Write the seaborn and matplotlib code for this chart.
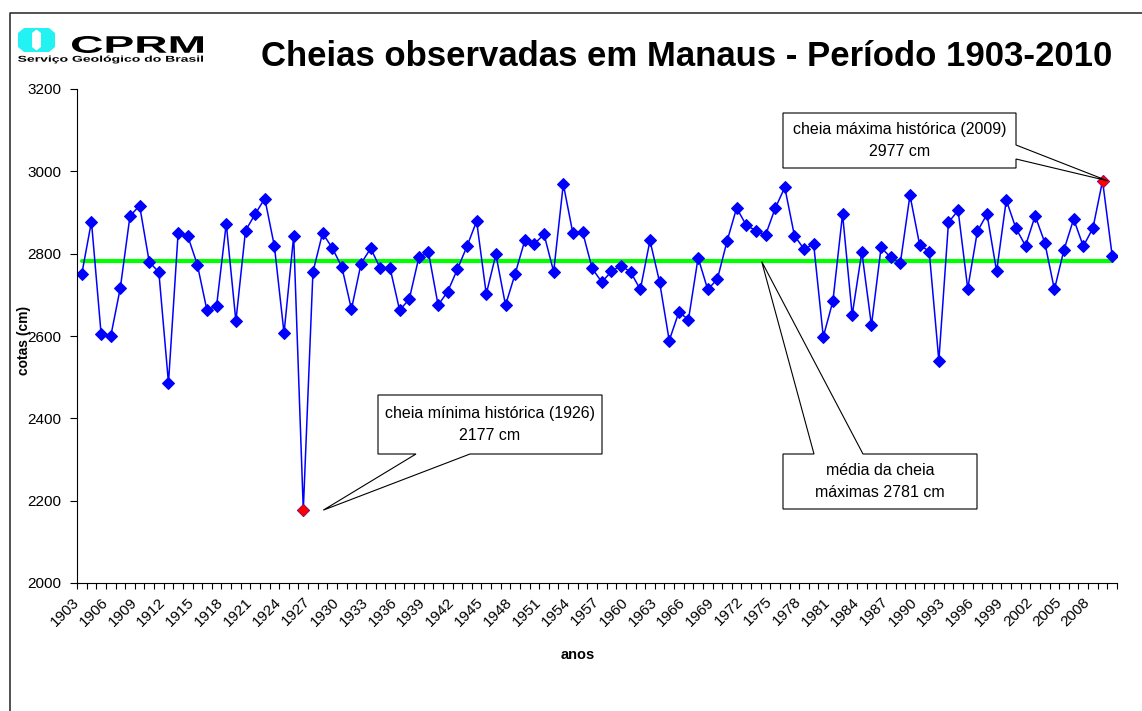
import matplotlib
matplotlib.use("Agg")
import matplotlib.pyplot as plt
import seaborn as sns
from matplotlib.patches import Polygon, PathPatch
from matplotlib.textpath import TextPath
from matplotlib.font_manager import FontProperties
from matplotlib.transforms import IdentityTransform, Affine2D, ScaledTranslation

# cotas maximas anuais do rio Negro em Manaus (cm)
anos = list(range(1903, 2011))
cotas = [
    2751, 2878, 2606, 2599, 2717, 2891, 2917, 2780, 2755, 2486,  # 1903-1912
    2850, 2843, 2773, 2662, 2674, 2873, 2636, 2856, 2896, 2934,  # 1913-1922
    2818, 2607, 2843, 2177, 2755, 2850, 2814, 2768, 2665, 2776,  # 1923-1932
    2813, 2764, 2766, 2663, 2689, 2791, 2803, 2675, 2708, 2762,  # 1933-1942
    2818, 2879, 2702, 2798, 2675, 2751, 2832, 2824, 2847, 2756,  # 1943-1952
    2969, 2849, 2853, 2764, 2731, 2757, 2771, 2755, 2713, 2832,  # 1953-1962
    2731, 2589, 2658, 2640, 2790, 2713, 2738, 2830, 2911, 2869,  # 1963-1972
    2856, 2845, 2910, 2961, 2844, 2811, 2823, 2598, 2685, 2896,  # 1973-1982
    2651, 2804, 2626, 2815, 2791, 2777, 2942, 2822, 2805, 2540,  # 1983-1992
    2876, 2905, 2715, 2854, 2896, 2757, 2930, 2862, 2819, 2892,  # 1993-2002
    2827, 2713, 2810, 2884, 2818, 2862, 2977, 2795,              # 2003-2010
]
media = 2781
ano_min, cota_min = 1926, 2177
ano_max, cota_max = 2009, 2977
yticks = [2000, 2200, 2400, 2600, 2800, 3000, 3200]

W, H = 1142, 711
sns.set_style("white")
plt.rcParams["font.family"] = ["Liberation Sans", "DejaVu Sans"]
plt.rcParams["text.color"] = "black"
plt.rcParams["axes.labelcolor"] = "black"
plt.rcParams["xtick.color"] = "black"
plt.rcParams["ytick.color"] = "black"

fig = plt.figure(figsize=(W / 100, H / 100), dpi=100)
ax = fig.add_axes([77 / W, 1 - 583 / H, (1117 - 77) / W, (583 - 89) / H])

sns.lineplot(x=[anos[0], anos[-1]], y=[media, media], color="#00FF00", linewidth=3, ax=ax)
sns.lineplot(x=anos, y=cotas, color="#0000FF", linewidth=1.1, marker="D",
             markersize=6, markeredgecolor="#0000FF", ax=ax)
sns.scatterplot(x=[ano_min, ano_max], y=[cota_min, cota_max], marker="D", color="#FF0000",
                edgecolor="#FF0000", s=34, zorder=5, ax=ax)

ax.set_xlim(anos[0] - 0.5, anos[-1] + 0.5)
ax.set_ylim(2000, 3200)
ax.set_yticks(yticks)
ax.set_yticklabels([str(v) for v in yticks], fontsize=11)
ax.tick_params(axis="y", direction="out", length=5, width=0.8, pad=6, left=True)
ax.set_xticks(anos[::3])
ax.set_xticklabels([str(a) for a in anos[::3]], fontsize=11, rotation=45,
                   ha="right", va="center", rotation_mode="anchor")
ax.set_xticks([a - 0.5 for a in anos] + [anos[-1] + 0.5], minor=True)
ax.tick_params(axis="x", which="major", length=0, pad=12)
ax.tick_params(axis="x", which="minor", direction="out", length=4, width=0.8, bottom=True)
off = ScaledTranslation(-5 / 100, 0, fig.dpi_scale_trans)
for lab in ax.get_xticklabels():
    lab.set_transform(lab.get_transform() + off)
for s in ["top", "right"]:
    ax.spines[s].set_visible(False)
for s in ["left", "bottom"]:
    ax.spines[s].set_color("black")
    ax.spines[s].set_linewidth(0.8)
ax.set_xlabel("")
ax.set_ylabel("")

fig.text(24 / W, 1 - 340 / H, "cotas (cm)", rotation=90, ha="center", va="center",
         fontsize=10, weight="bold")
fig.text(578 / W, 1 - 655 / H, "anos", ha="center", va="center", fontsize=10.5, weight="bold")
fig.text(687 / W, 1 - 57 / H, "Cheias observadas em Manaus - Período 1903-2010",
         ha="center", va="center", fontsize=25, weight="bold")

# moldura
fig.add_artist(plt.Line2D([9.5 / W, 9.5 / W, 1.0], [0.0, 1 - 12.5 / H, 1 - 12.5 / H],
                          transform=fig.transFigure, color="#333333", linewidth=1.2))


def px(pts):
    return [(x, H - y) for x, y in pts]


def texto_ajustado(txt, x0, y0, x1, y1):
    # texto em negrito esticado para caber na caixa (coordenadas em pixels)
    tp = TextPath((0, 0), txt, size=20, prop=FontProperties(family="Liberation Sans", weight="bold"))
    bb = tp.get_extents()
    tr = (Affine2D().translate(-bb.x0, -bb.y0)
          .scale((x1 - x0) / bb.width, (y1 - y0) / bb.height).translate(x0, H - y1))
    fig.add_artist(PathPatch(tr.transform_path(tp), transform=IdentityTransform(),
                             fc="black", ec="none"))


# logo CPRM
fig.add_artist(Polygon(px([(18, 33), (24, 28), (49, 28), (55, 33), (55, 47), (49, 52), (24, 52), (18, 47)]),
                       closed=True, transform=IdentityTransform(), fc="#22F2F2", ec="none"))
fig.add_artist(Polygon(px([(32, 33), (36.5, 29.5), (41, 33), (41, 47), (36.5, 50.5), (32, 47)]),
                       closed=True, transform=IdentityTransform(), fc="white", ec="none"))
texto_ajustado("CPRM", 72, 36, 203, 53)
texto_ajustado("Serviço Geológico do Brasil", 18, 55.5, 203, 63.5)


def callout(rect, tip, side, b1, b2, texto):
    x0, y0, x1, y1 = rect
    if side == "bottom":
        pts = [(x0, y0), (x1, y0), (x1, y1), (b2, y1), tip, (b1, y1), (x0, y1)]
    elif side == "top":
        pts = [(x0, y0), (b1, y0), tip, (b2, y0), (x1, y0), (x1, y1), (x0, y1)]
    else:
        pts = [(x0, y0), (x1, y0), (x1, b1), tip, (x1, b2), (x1, y1), (x0, y1)]
    fig.add_artist(Polygon(px(pts), closed=True, transform=IdentityTransform(),
                           fc="white", ec="black", lw=0.8, zorder=3))
    fig.text((x0 + x1) / 2 / W, 1 - (y0 + y1) / 2 / H, texto, ha="center", va="center",
             fontsize=11.5, linespacing=1.55, zorder=4)


fig.canvas.draw()


def ponto(ano, cota, dx=0):
    x, y = ax.transData.transform((ano, cota))
    return (x + dx, H - y)


callout((378, 395, 602, 454), ponto(ano_min, cota_min, 20), "bottom", 416, 470,
        "cheia mínima histórica (1926)\n2177 cm")
callout((783, 454, 977, 509), ponto(1973.6, media), "top", 814, 863,
        "média da cheia\nmáximas 2781 cm")
callout((783, 113, 1016, 168), ponto(ano_max, cota_max, 5), "right", 145, 159,
        "cheia máxima histórica (2009)\n2977 cm")

fig.savefig("out.png", dpi=100)
